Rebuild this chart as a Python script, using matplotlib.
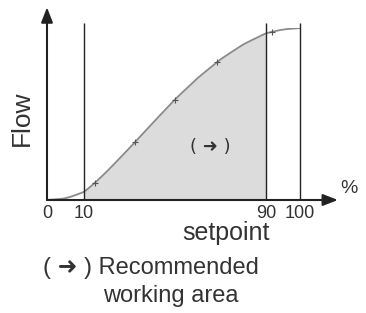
import numpy as np
import matplotlib.pyplot as plt

plt.rcParams['font.family'] = ['Liberation Sans', 'DejaVu Sans']

# setpoint (%) vs flow (% of max)
setpoint = [0, 5, 10, 15, 20, 25, 30, 40, 50, 60, 70, 80, 90, 95, 100]
flow = [0, 0.8, 4.6, 10.2, 16.5, 23.3, 30.2, 44.5, 58.5, 71, 81.8, 90.5, 97, 99.2, 100]
mark_x = [14.8, 32.4, 50, 68.3, 91.8]
area = (10, 90)
guides = [10, 90, 100]
tick_vals = [0, 10, 90, 100]

# the original axis is drawn schematically: 0-10 and 90-100 are stretched
knots_in = [0, 10, 90, 100]
knots_out = [0, 37, 219, 253]


def fwd(x):
    return np.interp(x, knots_in, knots_out)


def inv(x):
    return np.interp(x, knots_out, knots_in)


W, H = 366, 313
fig = plt.figure(figsize=(W / 100, H / 100), dpi=100)
x0, y0, x1, y1 = 47, 200, 300, 28
ax = fig.add_axes([x0 / W, 1 - y0 / H, (x1 - x0) / W, (y0 - y1) / H])
ax.set_xscale('function', functions=(fwd, inv))
ax.set_xlim(0, 100)
ax.set_ylim(0, 100)
for s in ax.spines.values():
    s.set_visible(False)
ax.set_yticks([])
ax.set_xticks([])

ink = '#222222'
fx = np.linspace(0, 100, 400)
fy = np.interp(fx, setpoint, flow)
# smooth the kinks a little
k = np.ones(15) / 15
fy_s = np.convolve(np.pad(fy, 7, mode='edge'), k, mode='valid')

sel = (fx >= area[0]) & (fx <= area[1])
ax.fill_between(fx[sel], 0, fy_s[sel], color='#dcdcdd', lw=0)
ax.plot(fx, fy_s, color='#8a8a8a', lw=1.3)
ax.plot(mark_x, np.interp(mark_x, fx, fy_s), ls='none', marker='+', ms=4,
        mew=0.8, color='#555555')

ax.vlines(guides, 0, 102.9, color=ink, lw=1.0, clip_on=False)

arrow = dict(arrowstyle='-|>,head_length=0.9,head_width=0.35', color=ink, lw=1.5,
             shrinkA=0, shrinkB=0)
ax.annotate('', xy=(0, 1.12), xytext=(0, 0), xycoords='axes fraction',
            arrowprops=arrow)
ax.annotate('', xy=(1.15, 0), xytext=(0, 0), xycoords='axes fraction',
            arrowprops=arrow)

txt = '#333333'
for v in tick_vals:
    ax.text(v, -3, str(v), ha='center', va='top', fontsize=13, color=txt)
ax.text(1.16, 0.02, '%', transform=ax.transAxes, ha='left', va='bottom',
        fontsize=14, color=txt)

fig.text(22 / W, 1 - 118 / H, 'Flow', rotation=90, ha='center', va='center',
         fontsize=19, color=txt)
ax.text(65.5, 31, '( ➜ )', ha='center', va='center', fontsize=13, color=txt,
        family=['DejaVu Sans'])
fig.text(226 / W, 1 - 233 / H, 'setpoint', ha='center', va='center',
         fontsize=18, color=txt)
fig.text(43 / W, 1 - 268 / H, '( ➜ ) Recommended', ha='left', va='center',
         fontsize=17, color=txt)
fig.text(103 / W, 1 - 296 / H, 'working area', ha='left', va='center',
         fontsize=17, color=txt)

fig.savefig('out.png', dpi=100)
